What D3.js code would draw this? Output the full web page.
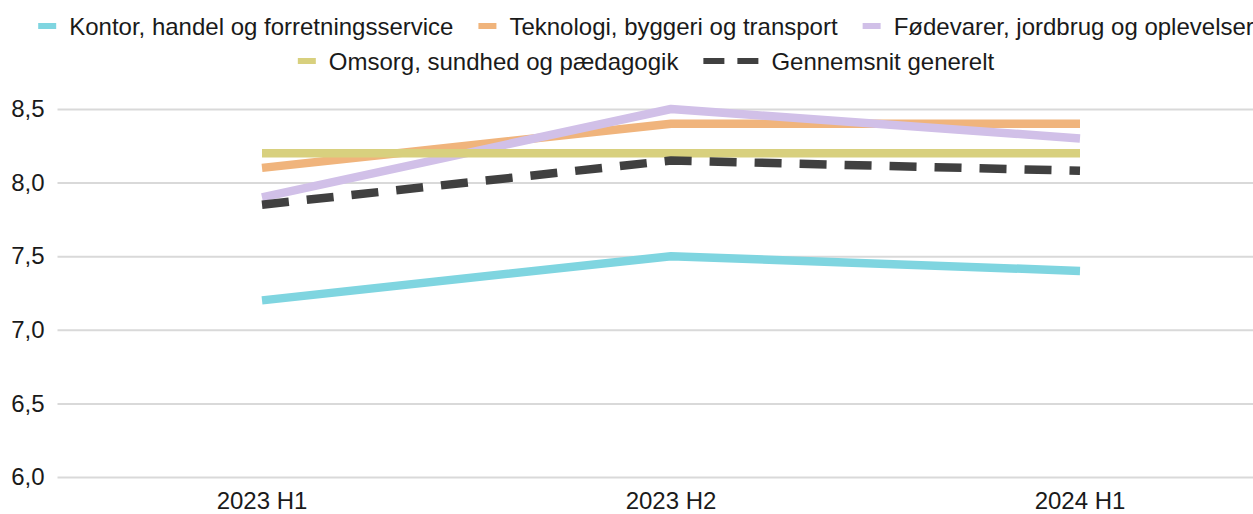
<!DOCTYPE html>
<html>
<head>
<meta charset="utf-8">
<script src="https://cdn.jsdelivr.net/npm/d3@7"></script>
<style>
  body { margin: 0; background: #fff; }
  svg { display: block; font-family: "Liberation Sans", Arial, sans-serif; }
</style>
</head>
<body>
<div id="chart"></div>
<script>
const categories = ["2023 H1", "2023 H2", "2024 H1"]
const seriesNames = [
  "Kontor, handel og forretningsservice",
  "Teknologi, byggeri og transport",
  "Fødevarer, jordbrug og oplevelser",
  "Omsorg, sundhed og pædagogik",
  "Gennemsnit generelt"
]
const kontor = [7.2, 7.5, 7.4]
const teknologi = [8.1, 8.4, 8.4]
const foedevarer = [7.9, 8.5, 8.3]
const omsorg = [8.2, 8.2, 8.2]
const gennemsnit = [7.85, 8.15, 8.08]
const yTicks = [6.0, 6.5, 7.0, 7.5, 8.0, 8.5]

const colors = ["#7fd5e0", "#f0b47c", "#d1c0e8", "#d8d07e", "#404040"]
const seriesValues = [kontor, teknologi, foedevarer, omsorg, gennemsnit]

const W = 1253, H = 514
const PLOT = {LEFT: 57.5, RIGHT: 1284.5, TOP: 109, BOTTOM: 477}
const FONT = 24

const svg = d3.select("#chart").append("svg")
  .attr("width", W)
  .attr("height", H)

const x = d3.scaleBand()
  .domain(categories)
  .range([PLOT.LEFT, PLOT.RIGHT])

const y = d3.scaleLinear()
  .domain([6.0, 8.5])
  .range([PLOT.BOTTOM, PLOT.TOP])

// gridlines + y labels
const yAxis = d3.axisLeft(y)
  .tickValues(yTicks)
  .tickSize(-(PLOT.RIGHT - PLOT.LEFT))
  .tickPadding(13)
  .tickFormat(d => d3.format(".1f")(d).replace(".", ","))

const yG = svg.append("g")
  .attr("transform", `translate(${PLOT.LEFT},0)`)
  .call(yAxis)
yG.select(".domain").remove()
yG.selectAll(".tick line").attr("stroke", "#d9d9d9").attr("stroke-width", 2)
yG.selectAll(".tick text")
  .attr("fill", "#1a1a1a")
  .attr("font-size", FONT)
  .attr("font-family", "Liberation Sans, Arial, sans-serif")

// x labels
const xAxis = d3.axisBottom(x).tickSize(0).tickPadding(15)
const xG = svg.append("g")
  .attr("transform", `translate(0,${PLOT.BOTTOM})`)
  .call(xAxis)
xG.select(".domain").remove()
xG.selectAll(".tick text")
  .attr("fill", "#1a1a1a")
  .attr("font-size", FONT)
  .attr("font-family", "Liberation Sans, Arial, sans-serif")

// lines
const line = d3.line()
  .x((d, i) => x(categories[i]) + x.bandwidth() / 2)
  .y(d => y(d))

seriesValues.forEach((vals, i) => {
  svg.append("path")
    .datum(vals)
    .attr("fill", "none")
    .attr("stroke", colors[i])
    .attr("stroke-width", 8.5)
    .attr("stroke-linejoin", "round")
    .attr("stroke-linecap", "butt")
    .attr("stroke-dasharray", i === 4 ? "27,18" : null)
    .attr("d", line)
})

// legend
const legendRows = [[0, 1, 2], [3, 4]]
const legendY = [26, 61]
const centerX = 646
legendRows.forEach((row, r) => {
  const g = svg.append("g")
  let cx = 0
  row.forEach(si => {
    const item = g.append("g").attr("transform", `translate(${cx},0)`)
    const swW = si === 4 ? 55 : 18
    item.append("line")
      .attr("x1", 0).attr("x2", swW)
      .attr("y1", 0).attr("y2", 0)
      .attr("stroke", colors[si])
      .attr("stroke-width", 6)
      .attr("stroke-dasharray", si === 4 ? "21,13" : null)
    const t = item.append("text")
      .attr("x", swW + 13)
      .attr("y", 8.5)
      .attr("font-size", FONT)
      .attr("fill", "#1a1a1a")
      .text(seriesNames[si])
    cx += swW + 13 + t.node().getComputedTextLength() + 25
  })
  const total = cx - 25
  g.attr("transform", `translate(${centerX - total / 2},${legendY[r]})`)
})
</script>
</body>
</html>
